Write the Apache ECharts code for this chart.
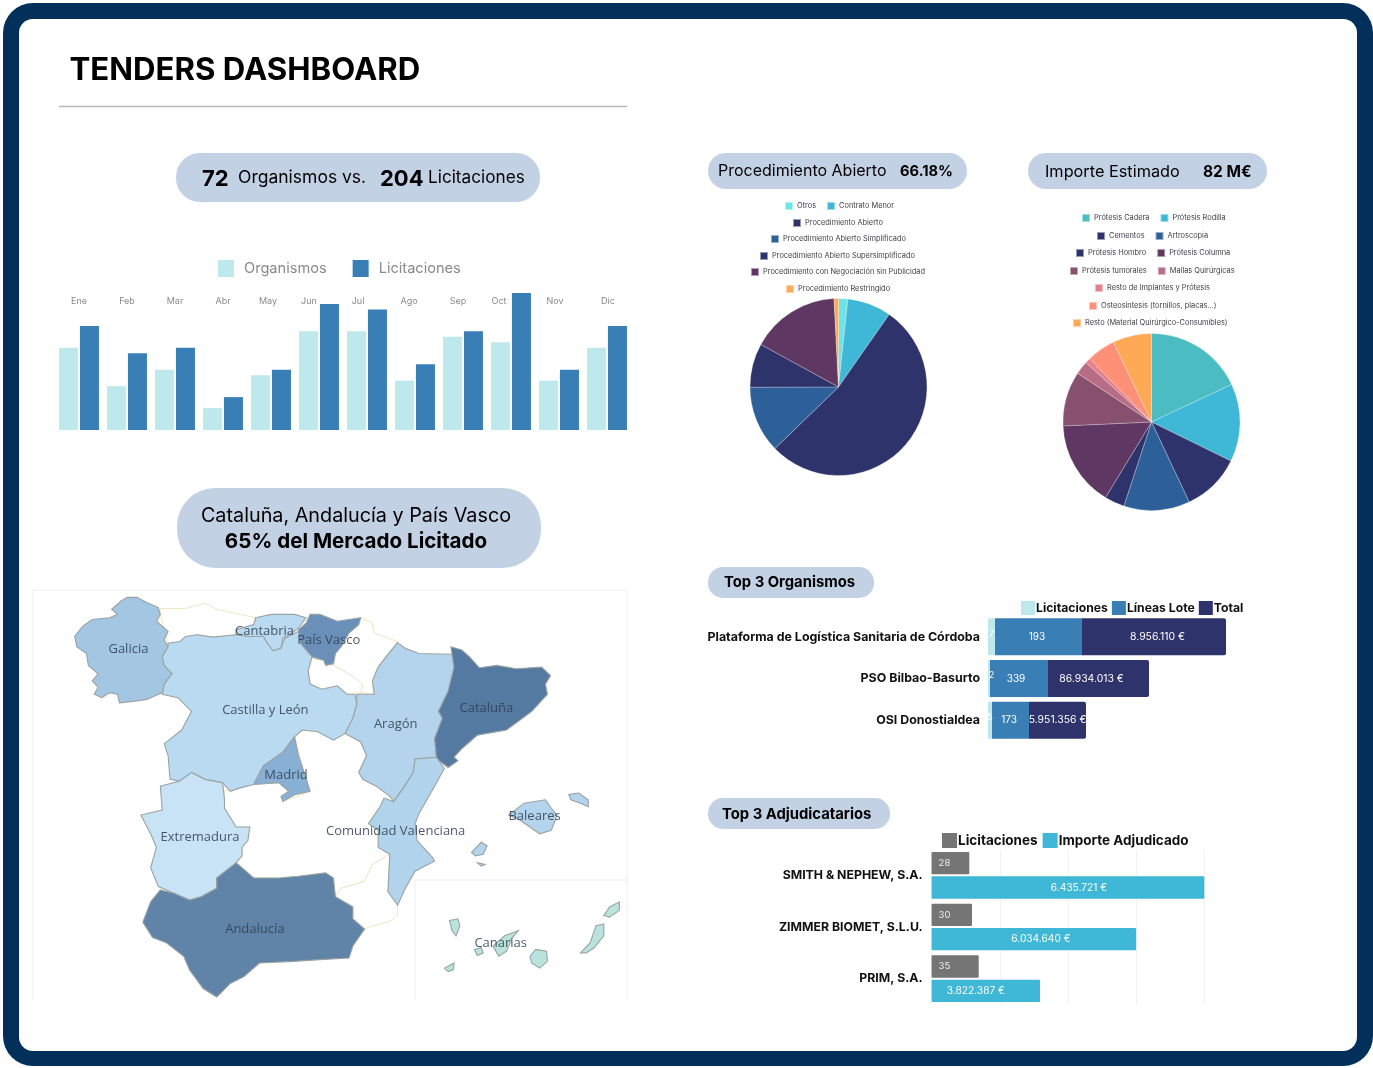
<!DOCTYPE html>
<html>
<head>
<meta charset="utf-8">
<style>html,body{margin:0;padding:0;background:#fff}#c{width:1373px;height:1068px}</style>
<script src="https://cdn.jsdelivr.net/npm/echarts@6/dist/echarts.min.js"></script>
</head>
<body>
<div id="c"></div>
<script>
// ---------- data ----------
const months = ['Ene','Feb','Mar','Abr','May','Jun','Jul','Ago','Sep','Oct','Nov','Dic'];
const monthOrganismos = [15,8,11,4,10,18,18,9,17,16,9,15];
const monthLicitaciones = [19,14,15,6,11,23,22,12,18,25,11,19];

const procNames = ['Otros','Contrato Menor','Procedimiento Abierto','Procedimiento Abierto Simplificado','Procedimiento Abierto Supersimplificado','Procedimiento con Negociación sin Publicidad','Procedimiento Restringido'];
const procShare = [1.7,8,53,12.2,8,16.2,0.8];
const procColors = ['#6fe3e6','#3fb7d6','#2f336b','#2d6098','#2f336b','#5f3763','#ffa957'];

const importeNames = ['Prótesis Cadera','Prótesis Rodilla','Cementos','Artroscopia','Prótesis Hombro','Prótesis Columna','Prótesis tumorales','Mallas Quirúrgicas','Resto de Implantes y Prótesis','Osteosíntesis (tornillos, placas...)','Resto (Material Quirúrgico-Consumibles)'];
const importeMillions = [14.8,11.7,8.8,9.9,3,12.8,8.2,2,0.8,4.3,5.8];
const importeColors = ['#4abcc2','#3fb7d6','#2f336b','#2d6098','#2f336b','#5f3763','#87506f','#b96c86','#e6808a','#ff9078','#ffa957'];

const topOrgNames = ['Plataforma de Logística Sanitaria de Córdoba','PSO Bilbao-Basurto','OSI Donostialdea'];
const topOrgLicLabels = ['7','2','5'];
const topOrgLinLabels = ['193','339','173'];
const topOrgTotLabels = ['8.956.110 €','86.934.013 €','5.951.356 €'];
const topOrgLicBar = [7,2,4];
const topOrgLinBar = [87,58,37];
const topOrgTotBar = [144,101,57];

const topAdjNames = ['SMITH & NEPHEW, S.A.','ZIMMER BIOMET, S.L.U.','PRIM, S.A.'];
const topAdjLicitaciones = [28,30,35];
const topAdjImporteLabels = ['6.435.721 €','6.034.640 €','3.822.387 €'];
const topAdjImporteBar = [20,15,7.95];

const regionNames = ['Galicia','Cantabria','País Vasco','Castilla y León','Aragón','Cataluña','Madrid','Comunidad Valenciana','Extremadura','Andalucía','Baleares','Canarias'];
const regionShare = [6,3,10,3,4,30,8,4,2,25,4,1];
const regionColors = ['#a3c6e3','#b9daf0','#6a8fb8','#b9daf0','#b3d4ec','#557aa1','#88b0d4','#b1d3ec','#c8e3f5','#6083a8','#b3d4ec','#b9e3dc'];
const regionLabelAnchors = [[253,497],[603,445],[768,470],[605,678],[940,718],[1173,670],[658,868],[940,1033],[437,1050],[578,1322],[1297,990],[1210,1362]];

// traced outlines, in the map's own units
const noDataOutlines = {
  'Asturias':[[[335,378],[400,378],[450,362],[480,380],[540,395],[580,405],[575,425],[530,440],[525,455],[470,462],[430,455],[400,460],[385,475],[355,480],[345,435],[335,395]]],
  'Navarra':[[[850,405],[880,420],[885,450],[945,475],[915,520],[890,560],[880,600],[885,630],[850,625],[855,600],[820,570],[780,545],[785,510],[805,480],[820,450]]],
  'La Rioja':[[[725,525],[755,530],[780,545],[820,570],[855,600],[850,625],[815,630],[790,605],[750,615],[720,600],[715,560]]],
  'Castilla-La Mancha':[[[500,915],[575,895],[640,890],[665,915],[650,945],[720,915],[705,860],[680,755],[700,735],[740,740],[780,765],[810,745],[850,770],[865,810],[845,860],[890,900],[925,930],[900,960],[870,1010],[895,1030],[895,1080],[925,1100],[880,1130],[860,1180],[800,1200],[785,1225],[780,1170],[760,1155],[690,1165],[640,1170],[575,1170],[530,1125],[545,1105],[545,1080],[560,1060],[565,1020],[530,1020],[500,965]]],
  'Murcia':[[[925,1100],[920,1210],[945,1250],[945,1280],[930,1295],[870,1315],[860,1320],[830,1290],[830,1255],[785,1225],[800,1200],[860,1180],[880,1130]]]
};
const regionOutlines = {
  'Galicia':[[[250,345],[275,345],[300,360],[330,375],[335,395],[325,415],[345,435],[355,445],[345,470],[355,490],[340,520],[345,545],[365,570],[345,600],[340,625],[300,645],[270,650],[230,655],[225,630],[205,625],[185,640],[165,630],[175,610],[160,590],[175,570],[150,545],[145,510],[120,490],[115,460],[135,430],[160,410],[205,405],[225,395],[210,380],[235,355]]],
  'Cantabria':[[[580,405],[620,395],[680,395],[710,405],[690,435],[680,445],[650,465],[645,495],[625,502],[610,480],[600,460],[560,460],[530,455],[530,440],[575,425]]],
  'País Vasco':[[[720,395],[745,395],[790,415],[850,405],[845,425],[820,450],[805,480],[800,490],[785,510],[780,540],[760,545],[755,530],[725,520],[700,490],[690,475],[690,440],[710,420]]],
  'Castilla y León':[[[355,480],[385,475],[400,460],[430,455],[470,462],[530,455],[560,460],[600,460],[610,480],[625,502],[645,495],[655,465],[690,445],[695,480],[725,520],[715,560],[720,600],[750,615],[790,605],[815,630],[835,630],[840,660],[830,700],[810,745],[780,765],[740,740],[700,735],[680,755],[650,800],[600,840],[575,895],[540,905],[515,915],[495,890],[450,880],[415,860],[385,885],[360,880],[355,810],[345,775],[390,735],[415,680],[380,640],[340,630],[345,600],[365,570],[345,545],[340,520],[355,490]]],
  'Aragón':[[[945,478],[965,495],[1000,510],[1085,512],[1090,550],[1075,620],[1050,680],[1060,700],[1040,760],[1045,815],[990,820],[985,860],[960,905],[935,945],[925,930],[890,900],[855,880],[845,860],[865,810],[850,770],[810,745],[830,700],[840,660],[840,630],[885,630],[880,590],[895,550],[915,520]]],
  'Cataluña':[[[1082,490],[1110,500],[1130,520],[1155,552],[1200,545],[1250,555],[1315,550],[1338,575],[1325,600],[1330,630],[1290,680],[1225,735],[1150,750],[1110,790],[1090,815],[1100,825],[1075,845],[1045,820],[1040,760],[1060,700],[1050,680],[1075,620],[1090,550]]],
  'Madrid':[[[680,755],[690,810],[705,860],[720,915],[680,925],[650,945],[645,930],[665,915],[640,890],[575,895],[600,840],[650,800]]],
  'Comunidad Valenciana':[[[990,820],[1045,815],[1065,848],[1040,900],[1000,980],[990,1010],[995,1060],[1035,1110],[1040,1120],[990,1150],[965,1200],[945,1250],[920,1210],[925,1100],[895,1080],[895,1030],[870,1010],[900,960],[910,935],[935,945],[960,905],[985,860]]],
  'Extremadura':[[[415,860],[450,880],[495,890],[500,940],[500,965],[530,1020],[565,1020],[560,1060],[545,1080],[545,1105],[530,1125],[480,1170],[480,1200],[440,1225],[410,1235],[370,1215],[330,1195],[310,1140],[325,1080],[310,1040],[285,985],[340,970],[335,900],[385,885]]],
  'Andalucía':[[[530,1125],[575,1170],[640,1170],[690,1165],[760,1155],[780,1170],[785,1225],[830,1255],[830,1290],[860,1320],[830,1370],[820,1405],[745,1410],[680,1415],[590,1420],[550,1460],[515,1480],[480,1520],[445,1495],[410,1440],[395,1400],[350,1360],[315,1345],[290,1300],[310,1240],[335,1205],[370,1215],[410,1235],[440,1225],[480,1200],[480,1170]]],
  'Baleares':[[[1230,985],[1270,950],[1325,940],[1340,965],[1355,985],[1340,1030],[1310,1040],[1285,1020],[1260,1000]],[[1385,925],[1410,920],[1435,940],[1435,960],[1415,950],[1390,940]],[[1135,1095],[1160,1065],[1175,1075],[1165,1100],[1145,1105]],[[1150,1125],[1170,1130],[1160,1135]]],
  'Canarias':[[[1190,1370],[1220,1340],[1255,1325],[1240,1345],[1225,1385],[1205,1400]],[[1078,1295],[1100,1290],[1105,1310],[1095,1340],[1085,1325]],[[1142,1380],[1160,1375],[1165,1390],[1150,1398]],[[1065,1435],[1090,1420],[1088,1440],[1075,1445]],[[1285,1400],[1300,1380],[1328,1385],[1330,1415],[1310,1435],[1290,1420]],[[1415,1390],[1440,1360],[1455,1310],[1475,1305],[1475,1340],[1450,1375],[1430,1390]],[[1475,1280],[1490,1255],[1515,1240],[1515,1265],[1490,1285]]]
};

// ---------- text ----------
const dashboardTitle = 'TENDERS DASHBOARD';
const kpiOrganismos = '72', kpiLicitaciones = '204';
const mapHeadline = 'Cataluña, Andalucía y País Vasco', mapHeadlineBold = '65% del Mercado Licitado';
const procHeadline = 'Procedimiento Abierto', procKpi = '66.18%';
const importeHeadline = 'Importe Estimado', importeKpi = '82 M€';

// ---------- styles ----------
const SANS = 'Inter, "Noto Sans", sans-serif';
const PILL = '#c3d1e5';
const monthLabelShift = [0,0,0,0,-3,-10,-9,-6,-5,-12,-4,1];
const adjImporteLabelShift = [11,7,-10];
const orgLicLabelShift = [0,2.5,0];
const orgLinLabelShift = [-1.5,-3,-1.5];
const orgTotLabelShift = [3.5,-7,0];

// ---------- map registration ----------
const toMulti = o => o.map(ring => [ring.map(p => [p[0], -p[1]])]);
const noDataFeatures = Object.keys(noDataOutlines).map(n => ({type:'Feature',properties:{name:n},geometry:{type:'MultiPolygon',coordinates:toMulti(noDataOutlines[n])}}));
const dataFeatures = regionNames.map((n,i) => ({type:'Feature',properties:{name:n,cp:[regionLabelAnchors[i][0],-regionLabelAnchors[i][1]]},geometry:{type:'MultiPolygon',coordinates:toMulti(regionOutlines[n])}}));
echarts.registerMap('spain',{type:'FeatureCollection',features:noDataFeatures.concat(dataFeatures)});

// ---------- helpers ----------
const pill = (x,y,w,h,r) => ({type:'rect',z:5,shape:{x,y,width:w,height:h,r},style:{fill:PILL}});
const txt = (text,x,y,size,weight,align,fill) => ({type:'text',z:6,style:{text,x,y,fill:fill||'#000',font:`${weight} ${size}px ${SANS}`,textAlign:align||'left',textVerticalAlign:'middle'}});
const hline = (x1,y1,x2,y2,c,w) => ({type:'line',z:1,shape:{x1,y1,x2,y2},style:{stroke:c,lineWidth:w}});
const rowLegend = (names,colors,allNames,top,left) => ({
  top,left,padding:0,orient:'horizontal',itemWidth:8,itemHeight:8,itemGap:10,selectedMode:false,
  icon:'rect',textStyle:{fontFamily:SANS,fontSize:7.4,color:'#3d3d48',padding:[0,0,0,-1]},
  data:names.map(n=>({name:n,itemStyle:{color:colors[allNames.indexOf(n)]}}))
});
const procRows = [['Otros','Contrato Menor'],['Procedimiento Abierto'],['Procedimiento Abierto Simplificado'],['Procedimiento Abierto Supersimplificado'],['Procedimiento con Negociación sin Publicidad'],['Procedimiento Restringido']];
const importeRows = [['Prótesis Cadera','Prótesis Rodilla'],['Cementos','Artroscopia'],['Prótesis Hombro','Prótesis Columna'],['Prótesis tumorales','Mallas Quirúrgicas'],['Resto de Implantes y Prótesis'],['Osteosíntesis (tornillos, placas...)'],['Resto (Material Quirúrgico-Consumibles)']];
const procRowTop = [201,218,234,251,267,284];
const importeRowTop = [213,231,248,266,283,301,318];
const procRowLeft = [784,792,770,759,750,785];
const importeRowLeft = [1081,1096,1075,1069,1094,1088,1072];
const rows = (rs,tops,lefts,colors,all) => rs.map((r,i)=>rowLegend(r,colors,all,tops[i],lefts[i]));

const option = {
  animation:false,
  backgroundColor:'#fff',
  graphic:[
    {type:'rect',z:0,shape:{x:3,y:3,width:1370,height:1063,r:30},style:{fill:'#03305a'}},
    {type:'rect',z:0,shape:{x:19,y:19,width:1338,height:1032,r:14},style:{fill:'#fff'}},
    txt(dashboardTitle,69.5,70.5,31.2,700),
    hline(59,106.5,627,106.5,'#b7b7b7',1.5),
    pill(176,153,364,49,24),
    txt(kpiOrganismos,202,179,22,700),
    txt('Organismos vs.',238,178,17.5,400),
    txt(kpiLicitaciones,380,179,22,700),
    txt('Licitaciones',428,178,17.2,400),
    pill(177,488,364,80,38),
    txt(mapHeadline,356,516,19.8,400,'center'),
    txt(mapHeadlineBold,356,542,20.6,700,'center'),
    pill(708,153,259,36,18),
    txt(procHeadline,718,171,16,400),
    txt(procKpi,900,172,14.7,700),
    pill(1028,153,239,36,18),
    txt(importeHeadline,1045,172,16.3,400),
    txt(importeKpi,1203,172,15.5,700),
    pill(708,567,166,31,15),
    txt('Top 3 Organismos',724,583,14.8,700),
    pill(708,798,182,31,15),
    txt('Top 3 Adjudicatarios',722,815,14.8,700),
    hline(33,590,627,590,'#efefef',1),
    hline(33,590,33,1000,'#efefef',1),
    hline(627,590,627,1000,'#efefef',1),
    hline(415,880,627,880,'#efefef',1),
    hline(415,880,415,1000,'#efefef',1)
  ],
  legend:[
    {left:218,top:260,padding:0,itemWidth:16,itemHeight:17,itemGap:26,selectedMode:false,icon:'rect',
      textStyle:{fontFamily:SANS,fontSize:14.6,color:'#8a8a8a',padding:[0,0,0,5]},
      data:[{name:'Organismos',itemStyle:{color:'#bde8ec'}},{name:'Licitaciones',itemStyle:{color:'#3a7eb6'}}]},
    ...rows(procRows,procRowTop,procRowLeft,procColors,procNames),
    ...rows(importeRows,importeRowTop,importeRowLeft,importeColors,importeNames),
    {left:1021,top:601,padding:0,itemWidth:14,itemHeight:14,itemGap:4,selectedMode:false,icon:'rect',
      textStyle:{fontFamily:SANS,fontSize:12.2,fontWeight:700,color:'#111',padding:[0,0,0,-4]},
      data:[{name:'Licitaciones',itemStyle:{color:'#bde8ec'}},{name:'Líneas Lote',itemStyle:{color:'#3a7eb6'}},{name:'Total',itemStyle:{color:'#2f336b'}}]},
    {left:942,top:833,padding:0,itemWidth:15,itemHeight:15,itemGap:5,selectedMode:false,icon:'rect',
      textStyle:{fontFamily:SANS,fontSize:13.5,fontWeight:700,color:'#111',padding:[0,0,0,-4]},
      data:[{name:'Licitaciones',itemStyle:{color:'#757575'}},{name:'Importe Adjudicado',itemStyle:{color:'#3fb7d6'}}]}
  ],
  grid:[
    {left:55,top:293,width:576,height:137},
    {left:988,top:616,width:260,height:125},
    {left:931.6,top:849.5,width:272.7,height:155}
  ],
  xAxis:[
    {gridIndex:0,type:'category',position:'top',data:months,axisLine:{show:false},axisTick:{show:false},
      axisLabel:{inside:true,margin:4,color:'#8a8a8a',fontFamily:SANS,fontSize:9,interval:0,
        formatter:(v,i)=>`{a${i}|${v}}`,
        rich:Object.fromEntries(monthLabelShift.map((s,i)=>[`a${i}`,{padding:s<0?[0,-2*s,0,0]:[0,0,0,2*s],color:'#8a8a8a',fontFamily:SANS,fontSize:9}]))}},
    {gridIndex:1,type:'value',min:0,max:260,show:false},
    {gridIndex:2,type:'value',min:0,max:20,interval:5,axisLine:{show:false},axisTick:{show:false},axisLabel:{show:false},splitLine:{show:true,lineStyle:{color:'#f1f1f1'}}},
    {gridIndex:2,type:'value',min:0,max:202.5,show:false}
  ],
  yAxis:[
    {gridIndex:0,type:'value',min:0,max:25,show:false},
    {gridIndex:1,type:'category',inverse:true,data:topOrgNames,axisLine:{show:false},axisTick:{show:false},
      axisLabel:{color:'#111',fontFamily:SANS,fontWeight:700,fontSize:12.4,margin:8}},
    {gridIndex:2,type:'category',inverse:true,data:topAdjNames,axisLine:{show:false},axisTick:{show:false},
      axisLabel:{color:'#111',fontFamily:SANS,fontWeight:700,fontSize:12.3,margin:9}}
  ],
  series:[
    {type:'bar',name:'Organismos',xAxisIndex:0,yAxisIndex:0,data:monthOrganismos,barWidth:19,barGap:'10%',itemStyle:{color:'#bde8ec'}},
    {type:'bar',name:'Licitaciones',xAxisIndex:0,yAxisIndex:0,data:monthLicitaciones,barWidth:19,barGap:'10%',itemStyle:{color:'#3a7eb6'}},
    {type:'pie',name:'Procedimiento',center:[838.5,387],radius:[0,88.5],startAngle:90,clockwise:true,label:{show:false},labelLine:{show:false},
      itemStyle:{borderColor:'rgba(255,255,255,0.5)',borderWidth:0.5},
      data:procNames.map((n,i)=>({name:n,value:procShare[i],itemStyle:{color:procColors[i]}}))},
    {type:'pie',name:'Importe',center:[1151.5,422],radius:[0,88.5],startAngle:90,clockwise:true,label:{show:false},labelLine:{show:false},
      itemStyle:{borderColor:'rgba(255,255,255,0.5)',borderWidth:0.5},
      data:importeNames.map((n,i)=>({name:n,value:importeMillions[i],itemStyle:{color:importeColors[i]}}))},
    {type:'bar',name:'Licitaciones',xAxisIndex:1,yAxisIndex:1,stack:'o',barWidth:37,
      data:topOrgLicBar.map((v,i)=>({value:v,label:{offset:[orgLicLabelShift[i],-3]}})),itemStyle:{color:'#bde8ec',borderRadius:1},
      label:{show:true,position:'inside',fontFamily:SANS,fontSize:9,color:'#fff',formatter:p=>topOrgLicLabels[p.dataIndex]}},
    {type:'bar',name:'Líneas Lote',xAxisIndex:1,yAxisIndex:1,stack:'o',barWidth:37,
      data:topOrgLinBar.map((v,i)=>({value:v,label:{offset:[orgLinLabelShift[i],0]}})),itemStyle:{color:'#3a7eb6'},
      label:{show:true,position:'inside',fontFamily:SANS,fontSize:10,color:'#fff',formatter:p=>topOrgLinLabels[p.dataIndex]}},
    {type:'bar',name:'Total',xAxisIndex:1,yAxisIndex:1,stack:'o',barWidth:37,
      data:topOrgTotBar.map((v,i)=>({value:v,label:{offset:[orgTotLabelShift[i],0]}})),itemStyle:{color:'#2f336b',borderRadius:[0,2,2,0]},
      label:{show:true,position:'inside',fontFamily:SANS,fontSize:10.4,color:'#fff',formatter:p=>topOrgTotLabels[p.dataIndex]}},
    {type:'bar',name:'Licitaciones',xAxisIndex:3,yAxisIndex:2,barWidth:22.3,barGap:'9%',data:topAdjLicitaciones,itemStyle:{color:'#757575',borderRadius:1},
      label:{show:true,position:'insideLeft',distance:7,fontFamily:SANS,fontSize:9.5,color:'#eee'}},
    {type:'bar',name:'Importe Adjudicado',xAxisIndex:2,yAxisIndex:2,barWidth:22.3,barGap:'9%',
      data:topAdjImporteBar.map((v,i)=>({value:v,label:{offset:[adjImporteLabelShift[i],0]}})),itemStyle:{color:'#3fb7d6',borderRadius:1},
      label:{show:true,position:'inside',fontFamily:SANS,fontSize:10.2,color:'#fff',formatter:p=>topAdjImporteLabels[p.dataIndex]}},
    {type:'map',map:'spain',roam:false,silent:true,showLegendSymbol:false,left:30,top:480,width:610,height:530,aspectScale:1,
      boundingCoords:[[0,0],[1568,-1558]],
      itemStyle:{areaColor:'#fff',borderColor:'#f2e7c2',borderWidth:1},
      label:{show:false},
      emphasis:{disabled:true},
      data:regionNames.map((n,i)=>({name:n,value:regionShare[i],
        itemStyle:{areaColor:regionColors[i],borderColor:'#9aa3a3',borderWidth:1.1},
        label:{show:true,color:'rgba(45,62,80,0.85)',fontFamily:'"Open Sans", sans-serif',fontSize:13}}))}
  ]
};
const chart = echarts.init(document.getElementById('c'));
chart.setOption(option);
</script>
</body>
</html>
